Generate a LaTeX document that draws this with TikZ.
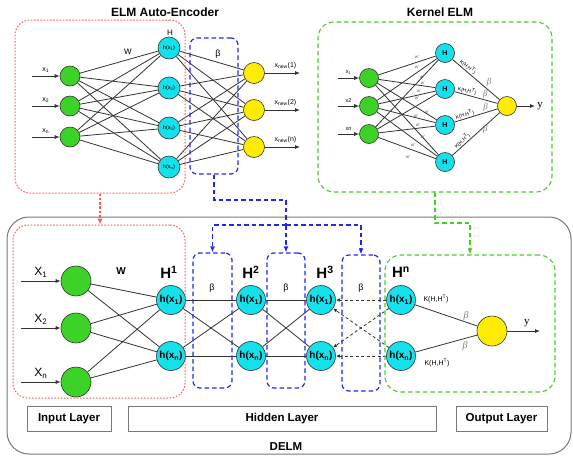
\documentclass[tikz,border=0pt]{standalone}
\usepackage{fontspec}
\setmainfont{Liberation Sans}
\newfontfamily\seriffont{Liberation Serif}
\usetikzlibrary{arrows.meta}

\definecolor{nodegreen}{RGB}{60,210,40}
\definecolor{nodecyan}{RGB}{20,225,235}
\definecolor{nodeyellow}{RGB}{255,236,0}
\definecolor{boxred}{RGB}{255,90,90}
\definecolor{boxblue}{RGB}{35,40,240}
\definecolor{boxgreen}{RGB}{70,205,40}
\definecolor{linegray}{RGB}{50,50,50}
\definecolor{framegray}{RGB}{120,120,120}

\newcommand{\fsz}[1]{\fontsize{#1}{#1}\selectfont}

\begin{document}
\begin{tikzpicture}[x=1pt,y=-1pt,
  neuron/.style={circle, draw=linegray, line width=0.6pt, inner sep=0pt},
  gn/.style={neuron, fill=nodegreen},
  cn/.style={neuron, fill=nodecyan},
  yn/.style={neuron, fill=nodeyellow},
  wire/.style={draw=linegray, line width=0.8pt},
  dwire/.style={wire, dash pattern=on 3pt off 2.5pt, -{Latex[length=4pt,width=3.5pt]}},
  inarrow/.style={wire, -{Latex[length=5pt,width=4pt]}},
  redbox/.style={rectangle, draw=boxred, line width=1pt, dash pattern=on 1.6pt off 1.6pt, rounded corners=15pt, inner sep=0pt},
  bluebox/.style={rectangle, draw=boxblue, line width=1.2pt, dash pattern=on 4.5pt off 3pt, rounded corners=7pt, inner sep=0pt},
  greenbox/.style={rectangle, draw=boxgreen, line width=1.1pt, dash pattern=on 4.5pt off 3pt, rounded corners=16pt, inner sep=0pt},
  redlink/.style={draw=boxred, line width=1.1pt, dash pattern=on 2.5pt off 1.8pt, -{Latex[length=6pt,width=5pt]}},
  bluelink/.style={draw=boxblue, line width=1.2pt, dash pattern=on 4.5pt off 3pt},
  greenlink/.style={draw=boxgreen, line width=1.1pt, dash pattern=on 4.5pt off 3pt},
  tip/.style={-{Latex[length=6pt,width=5pt]}},
  layerbox/.style={rectangle, draw=framegray, line width=1pt, minimum height=25pt, inner sep=0pt, font=\fsz{11.5}\bfseries},
  title/.style={font=\fsz{12}\bfseries},
  wlab/.style={font=\fsz{4.5}, text=black!65, inner sep=0pt},
  klab/.style={font=\fsz{5}, inner sep=0.8pt},
  gbeta/.style={font=\seriffont\itshape\fsz{9}, text=gray, inner sep=1pt}
]
\useasboundingbox (0,0) rectangle (573,456);

% ---------- DELM frame ----------
\node[rectangle, draw=framegray, line width=1pt, rounded corners=22pt,
      minimum width=564pt, minimum height=237pt] (delm) at (289,335.5) {};
\node[font=\fsz{11.5}\bfseries] (delmlab) at (286,447) {DELM};

% ---------- ELM Auto-Encoder ----------
\node[title] (aetitle) at (165,12) {ELM Auto-Encoder};
\foreach \i/\y in {1/76,2/106,3/137}
  \node[gn, minimum size=20pt] (a\i) at (70,\y) {};
\node[cn, minimum size=22pt, font=\fsz{5.5}] (h1) at (169,48) {h(x\textsubscript{1})};
\node[cn, minimum size=22pt, font=\fsz{5.5}] (h2) at (169,88) {h(x\textsubscript{2})};
\node[cn, minimum size=22pt, font=\fsz{5.5}] (h3) at (169,128) {h(x\textsubscript{3})};
\node[cn, minimum size=22pt, font=\fsz{5.5}] (h4) at (169,167) {h(x\textsubscript{n})};
\foreach \i/\y in {1/73,2/110,3/147}
  \node[yn, minimum size=21pt] (o\i) at (254,\y) {};
\foreach \i in {1,2,3}
  \foreach \j in {1,...,4}
    \draw[wire] (a\i) -- (h\j);
\foreach \j in {1,...,4}
  \foreach \k in {1,2,3}
    \draw[wire] (h\j) -- (o\k);
\coordinate (ax1) at (32,76);
\coordinate (ax2) at (32,106);
\coordinate (ax3) at (32,137);
\draw[inarrow] (ax1) -- node[above, font=\fsz{7}] {x\textsubscript{1}} (a1);
\draw[inarrow] (ax2) -- node[above, font=\fsz{7}] {x\textsubscript{2}} (a2);
\draw[inarrow] (ax3) -- node[above, font=\fsz{7}] {x\textsubscript{n}} (a3);
\coordinate (ox1) at (300,73);
\coordinate (ox2) at (300,110);
\coordinate (ox3) at (300,147);
\draw[inarrow] (o1) -- node[above, font=\fsz{7}, xshift=3pt] {x\textsubscript{new}(1)} (ox1);
\draw[inarrow] (o2) -- node[above, font=\fsz{7}, xshift=3pt] {x\textsubscript{new}(2)} (ox2);
\draw[inarrow] (o3) -- node[above, font=\fsz{7}, xshift=3pt] {x\textsubscript{new}(n)} (ox3);
\node[font=\fsz{8}] (aeW) at (128,52) {W};
\node[font=\fsz{8}] (aeH) at (170,33) {H};
\node[font=\fsz{9}] (aeB) at (218,54) {β};

% ---------- Kernel ELM ----------
\node[title] (ktitle) at (440,12) {Kernel ELM};
\foreach \i/\y in {1/78,2/106,3/134}
  \node[gn, minimum size=19pt] (ki\i) at (369,\y) {};
\foreach \j/\y in {1/53,2/89,3/125,4/162}
  \node[cn, minimum size=19pt, font=\fsz{7}\bfseries] (kh\j) at (445,\y) {H};
\node[yn, minimum size=19pt] (ko) at (507,106) {};
\foreach \i in {1,2,3}
  \foreach \j in {1,...,4}
    \draw[wire] (ki\i) -- (kh\j);
\coordinate (kx1) at (338,78);
\coordinate (kx2) at (338,106);
\coordinate (kx3) at (338,134);
\draw[inarrow] (kx1) -- node[above, font=\fsz{5.5}] {x\textsubscript{1}} (ki1);
\draw[inarrow] (kx2) -- node[above, font=\fsz{5.5}] {x2} (ki2);
\draw[inarrow] (kx3) -- node[above, font=\fsz{5.5}] {xn} (ki3);
\draw[wire] (kh1) -- node[klab, sloped, above, pos=0.27] {K(H,H\textsuperscript{T})}
                     node[gbeta, pos=0.7, above right] {β} (ko);
\draw[wire] (kh2) -- node[klab, sloped, above, pos=0.27] {K(H,H\textsuperscript{T})}
                     node[gbeta, pos=0.72, above] {β} (ko);
\draw[wire] (kh3) -- node[klab, sloped, above, pos=0.27] {K(H,H\textsuperscript{T})}
                     node[gbeta, pos=0.72, above] {β} (ko);
\draw[wire] (kh4) -- node[klab, sloped, above, pos=0.27] {K(H,H\textsuperscript{T})}
                     node[gbeta, pos=0.62, right] {β} (ko);
\coordinate (ky) at (535,106);
\draw[inarrow] (ko) -- (ky) node[right, font=\seriffont\fsz{11}, inner sep=2pt] {y};
% weight labels on the input connections
\foreach \p [count=\n] in {(417,57),(417,67),(422,77),(423,83),(419,91),(417,98),
                          (427,112),(416,116),(418,125),(423,137),(413,145),(408,157)}
  \node[wlab] (kw\n) at \p {w'};

% ---------- DELM network ----------
\foreach \i/\y in {1/281,2/328,3/382}
  \node[gn, minimum size=30pt] (di\i) at (76,\y) {};
\foreach \l/\x in {1/171,2/251,3/321,4/401} {
  \node[cn, minimum size=29pt, font=\fsz{10}\bfseries] (L\l a) at (\x,300) {h(x\textsubscript{1})};
  \node[cn, minimum size=29pt, font=\fsz{10}\bfseries] (L\l b) at (\x,356) {h(x\textsubscript{n})};
}
\node[yn, minimum size=30pt] (dout) at (492,331) {};
\foreach \i in {1,2,3} {
  \draw[wire] (di\i) -- (L1a);
  \draw[wire] (di\i) -- (L1b);
}
\foreach \l/\m in {1/2,2/3} {
  \draw[wire] (L\l a) -- (L\m a);
  \draw[wire] (L\l a) -- (L\m b);
  \draw[wire] (L\l b) -- (L\m a);
  \draw[wire] (L\l b) -- (L\m b);
}
\draw[dwire] (L4a) -- (L3a);
\draw[dwire] (L4a) -- (L3b);
\draw[dwire] (L4b) -- (L3a);
\draw[dwire] (L4b) -- (L3b);
\draw[wire] (L4a) -- (dout);
\draw[wire] (L4b) -- (dout);
\coordinate (dx1) at (21,281);
\coordinate (dx2) at (21,328);
\coordinate (dx3) at (21,382);
\draw[inarrow] (dx1) -- node[above, font=\fsz{12}] {X\textsubscript{1}} (di1);
\draw[inarrow] (dx2) -- node[above, font=\fsz{12}] {X\textsubscript{2}} (di2);
\draw[inarrow] (dx3) -- node[above, font=\fsz{12}] {X\textsubscript{n}} (di3);
\coordinate (dy) at (540,331);
\draw[inarrow] (dout) -- node[above, pos=0.6, font=\seriffont\fsz{11}] {y} (dy);
\node[font=\fsz{10}\bfseries] (dW) at (121,271) {W};
\node[font=\fsz{15}\bfseries] (dH1) at (169,272) {H\textsuperscript{1}};
\node[font=\fsz{15}\bfseries] (dH2) at (251,272) {H\textsuperscript{2}};
\node[font=\fsz{15}\bfseries] (dH3) at (325,272) {H\textsuperscript{3}};
\node[font=\fsz{15}\bfseries] (dHn) at (401,272) {H\textsuperscript{n}};
\node[font=\fsz{9}] (dB1) at (212,288) {β};
\node[font=\fsz{9}] (dB2) at (286,288) {β};
\node[font=\fsz{9}] (dB3) at (361,288) {β};
\node[font=\fsz{7}] (dK1) at (436,299) {K(H,H\textsuperscript{T})};
\node[font=\fsz{7}] (dK2) at (437,363) {K(H,H\textsuperscript{T})};
\node[gbeta, font=\seriffont\itshape\fsz{10}] (dG1) at (466,316) {β};
\node[gbeta, font=\seriffont\itshape\fsz{10}] (dG2) at (465,346) {β};

% ---------- dashed groupings ----------
\node[redbox, minimum width=170pt, minimum height=173pt] (aeBox) at (100,106.5) {};
\node[bluebox, minimum width=48pt, minimum height=136pt] (aeBeta) at (214,106) {};
\node[greenbox, minimum width=234pt, minimum height=170pt] (kBox) at (435,107) {};
\node[redbox, minimum width=172pt, minimum height=173pt] (inBox) at (99,311.5) {};
\node[bluebox, minimum width=39pt, minimum height=135pt] (b1) at (212.5,320.5) {};
\node[bluebox, minimum width=38pt, minimum height=135pt] (b2) at (286,320.5) {};
\node[bluebox, minimum width=38pt, minimum height=136pt] (b3) at (361,323) {};
\node[greenbox, minimum width=170pt, minimum height=137pt] (outBox) at (470,323.5) {};

% ---------- layer captions ----------
\node[layerbox, minimum width=84pt] (inLayer) at (69,418.5) {Input Layer};
\node[layerbox, minimum width=308pt] (hidLayer) at (282,418.5) {Hidden Layer};
\node[layerbox, minimum width=91pt] (outLayer) at (501.5,418.5) {Output Layer};

% ---------- links between the two stages ----------
\draw[redlink] (aeBox.south) -- (aeBox.south |- inBox.north);
\coordinate (bturn) at (214,200);
\coordinate (bsplit) at (286,225);
\draw[bluelink] (aeBeta.south) -- (bturn) -| (bsplit);
\draw[bluelink, tip] (bsplit) -| (b1.north);
\draw[bluelink, tip] (bsplit) -- (b2.north);
\draw[bluelink, tip] (bsplit) -| (b3.north);
\coordinate (gturn) at (435,223);
\draw[greenlink, tip] (kBox.south) -- (gturn) -| (outBox.north);
\end{tikzpicture}
\end{document}
